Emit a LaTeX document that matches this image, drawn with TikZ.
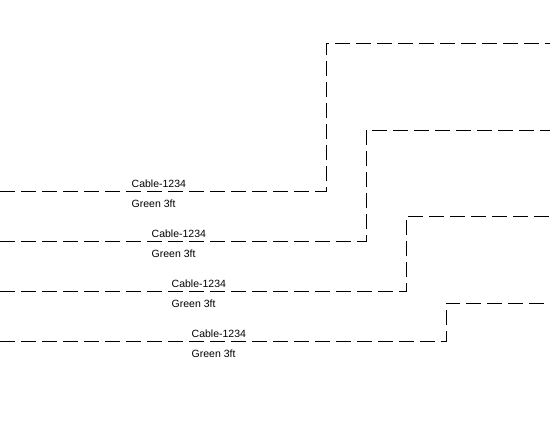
\documentclass[tikz,border=0pt]{standalone}
\usepackage{fontspec}
\setmainfont{Liberation Sans}
\tikzset{
  cable/.style={line width=1pt,dash pattern=on 15pt off 6pt},
  cabletag/.style={anchor=west,inner sep=0pt,font=\fontsize{10.5}{12}\selectfont},
}
\begin{document}
\begin{tikzpicture}[x=1pt,y=-1pt]
\useasboundingbox (0,0) rectangle (550,435);
% cable 1
\coordinate (c1a) at (0,191.5);
\coordinate (c1b) at (326,191.5);
\coordinate (c1c) at (326,43.5);
\coordinate (c1d) at (550,43.5);
\draw[cable] (c1a) -- (c1b) -- (c1c) -- (c1d);
\node[cabletag] (n1) at (131.5,184) {Cable-1234};
\node[cabletag] (g1) at (131.5,204) {Green 3ft};
% cable 2
\coordinate (c2a) at (0,241.5);
\coordinate (c2b) at (366,241.5);
\coordinate (c2c) at (366,130.5);
\coordinate (c2d) at (550,130.5);
\draw[cable] (c2a) -- (c2b) -- (c2c) -- (c2d);
\node[cabletag] (n2) at (151.5,234) {Cable-1234};
\node[cabletag] (g2) at (151.5,254) {Green 3ft};
% cable 3
\coordinate (c3a) at (0,291.5);
\coordinate (c3b) at (406,291.5);
\coordinate (c3c) at (406,216.5);
\coordinate (c3d) at (550,216.5);
\draw[cable] (c3a) -- (c3b) -- (c3c) -- (c3d);
\node[cabletag] (n3) at (171.5,284) {Cable-1234};
\node[cabletag] (g3) at (171.5,304) {Green 3ft};
% cable 4
\coordinate (c4a) at (0,341.5);
\coordinate (c4b) at (446,341.5);
\coordinate (c4c) at (446,303.5);
\coordinate (c4d) at (550,303.5);
\draw[cable] (c4a) -- (c4b) -- (c4c) -- (c4d);
\node[cabletag] (n4) at (191.5,334) {Cable-1234};
\node[cabletag] (g4) at (191.5,354) {Green 3ft};
\end{tikzpicture}
\end{document}
